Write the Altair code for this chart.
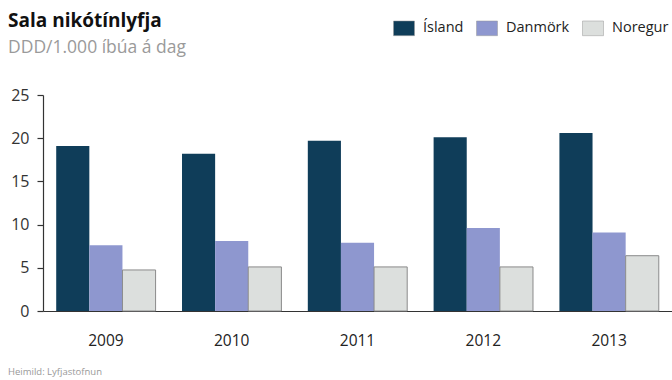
import altair as alt
import pandas as pd

years = ["2009", "2010", "2011", "2012", "2013"]
countries = ["Ísland", "Danmörk", "Noregur"]
island = [19.1, 18.2, 19.7, 20.1, 20.6]
danmork = [7.6, 8.1, 7.9, 9.6, 9.1]
noregur = [4.75, 5.1, 5.1, 5.1, 6.4]
colors = ["#0f3d59", "#8e97cf", "#dcdfdd"]
title_text = "Sala nikótínlyfja"
subtitle_text = "DDD/1.000 íbúa á dag"
source_text = "Heimild: Lyfjastofnun"

rows = []
for i, y in enumerate(years):
    for c, vals in zip(countries, [island, danmork, noregur]):
        rows.append({"ar": y, "land": c, "gildi": vals[i]})
df = pd.DataFrame(rows)

FONT = "Open Sans"

bars = alt.Chart(df).mark_bar(stroke="#8a8a8a").encode(
    x=alt.X("ar:N", sort=years,
            scale=alt.Scale(paddingInner=0.21, paddingOuter=0.105),
            axis=alt.Axis(title=None,
                          labelAngle=0, labelFont=FONT, labelFontSize=15.5, labelColor="#222222",
                          labelPadding=22, ticks=False, domainColor="#333333", domainWidth=1.2)),
    xOffset=alt.XOffset("land:N", sort=countries),
    y=alt.Y("gildi:Q", scale=alt.Scale(domain=[0, 25], nice=False),
            axis=alt.Axis(title=None, values=[0, 5, 10, 15, 20, 25], grid=False,
                          labelFont=FONT, labelFontSize=16, labelColor="#333333",
                          labelPadding=8, tickSize=6, tickColor="#333333",
                          domainColor="#333333", domainWidth=1.2, tickWidth=1.2)),
    color=alt.Color("land:N", sort=countries,
                    scale=alt.Scale(domain=countries, range=colors),
                    legend=alt.Legend(title=None, orient="none", direction="horizontal",
                                      legendX=350, legendY=-78,
                                      symbolType="M-1,-0.7H1V0.7H-1Z", symbolSize=441,
                                      symbolStrokeColor="#999999", symbolStrokeWidth=0.5,
                                      labelFont=FONT, labelFontSize=14.5, labelColor="#222222",
                                      labelOffset=8, columnPadding=11, labelLimit=200)),
    strokeWidth=alt.condition(alt.datum.land == "Noregur", alt.value(1), alt.value(0)),
)

one = pd.DataFrame({"t": [0]})
title = alt.Chart(one).mark_text(align="left", baseline="alphabetic", font=FONT,
                                 fontSize=19, fontWeight="bold", color="#111111").encode(
    x=alt.value(-35), y=alt.value(-68), text=alt.value(title_text))
subtitle = alt.Chart(one).mark_text(align="left", baseline="alphabetic", font=FONT,
                                    fontSize=17.5, color="#9a9a9a").encode(
    x=alt.value(-35), y=alt.value(-42), text=alt.value(subtitle_text))
source = alt.Chart(one).mark_text(align="left", baseline="alphabetic", font=FONT,
                                  fontSize=9.5, color="#999999").encode(
    x=alt.value(-35), y=alt.value(280), text=alt.value(source_text))

chart = alt.layer(bars, title, subtitle, source).properties(
    width=629, height=216,
    autosize=alt.AutoSizeParams(type="none"),
    padding={"left": 43, "top": 95, "right": 0, "bottom": 69},
).configure_view(stroke=None)

chart.save("out.html", embed_options={"renderer": "svg", "actions": False})
